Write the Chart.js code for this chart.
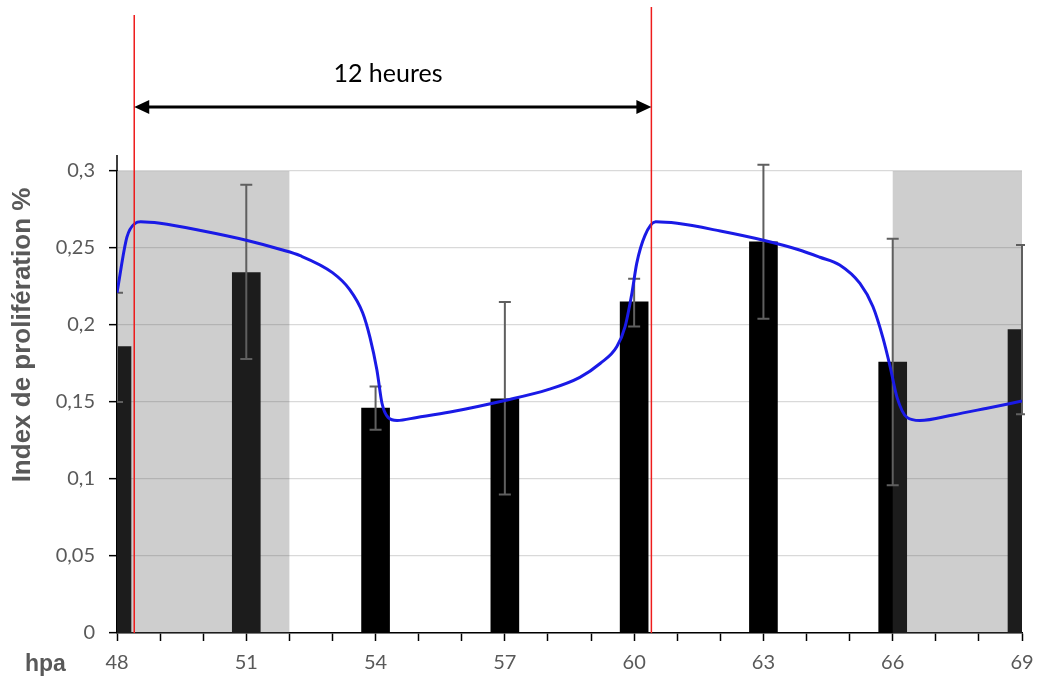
<!DOCTYPE html>
<html>
<head>
<meta charset="utf-8">
<script src="https://cdn.jsdelivr.net/npm/chart.js@4"></script>
<style>
  html, body { margin: 0; padding: 0; background: #fff; }
  #wrap { width: 1038px; height: 679px; }
</style>
</head>
<body>
<div id="wrap"><canvas id="c"></canvas></div>
<script>
// bars (hpa, index)
const barX = [48, 51, 54, 57, 60, 63, 66, 69];
const barY = [0.186, 0.234, 0.146, 0.152, 0.215, 0.254, 0.176, 0.197];
const errLow = [0.150, 0.178, 0.132, 0.090, 0.199, 0.204, 0.096, 0.142];
const errHigh = [0.221, 0.291, 0.160, 0.215, 0.230, 0.304, 0.256, 0.252];

// blue curve
const curveX = [48, 48.23, 48.42, 48.55, 49, 50, 51, 51.8, 52.25, 53.0, 53.4, 53.7, 53.87, 54.03, 54.15, 54.29, 54.5, 54.96, 55.73,
  57, 58, 58.74, 59.21, 59.6, 59.79, 59.95, 60.06, 60.25, 60.5, 61, 62, 63, 63.8, 64.31, 64.77, 65.24, 65.54, 65.77, 65.94, 66.1,
  66.33, 66.63, 67.4, 68.19, 69];
const curveY = [0.221, 0.257, 0.266, 0.267, 0.266, 0.261, 0.255, 0.249, 0.245, 0.234, 0.223, 0.208, 0.192, 0.171, 0.149, 0.140, 0.138, 0.140, 0.1435,
  0.151, 0.158, 0.166, 0.175, 0.186, 0.199, 0.221, 0.240, 0.258, 0.267, 0.266, 0.261, 0.255, 0.249, 0.244, 0.239, 0.227, 0.212, 0.192, 0.173, 0.153,
  0.140, 0.138, 0.1416, 0.146, 0.1506];

// grey periods and the 12 h markers
const shadeRanges = [[48, 52], [66, 69]];
const markerX = [48.4, 60.4];
const markerText = "12 heures";
const yTitle = "Index de prolifération %";
const xTitle = "hpa";

const FONT = "Lato, 'Open Sans', sans-serif";
const TITLE_FONT = "'Liberation Sans', Arial, sans-serif";
const GREY = "#595959";

const extras = {
  id: "extras",
  afterDatasetDraw(chart, args) {
    if (args.index !== 1) return;
    const { ctx, chartArea: a, scales: { x, y } } = chart;
    ctx.save();
    ctx.beginPath();
    ctx.rect(a.left, 0, a.right - a.left + 3, a.bottom);
    ctx.clip();
    // grey shading (drawn over the bars)
    ctx.fillStyle = "rgba(94,94,94,0.3)";
    shadeRanges.forEach(r => {
      const x0 = x.getPixelForValue(r[0]), x1 = x.getPixelForValue(r[1]);
      ctx.fillRect(x0, y.getPixelForValue(0.3), x1 - x0, y.getPixelForValue(0) - y.getPixelForValue(0.3));
    });
    // error bars
    ctx.strokeStyle = "#5f5f5f";
    ctx.lineWidth = 2;
    barX.forEach((v, i) => {
      const px = x.getPixelForValue(v);
      const lo = y.getPixelForValue(errLow[i]), hi = y.getPixelForValue(errHigh[i]);
      ctx.beginPath();
      ctx.moveTo(px, lo); ctx.lineTo(px, hi);
      ctx.moveTo(px - 6, lo); ctx.lineTo(px + 6, lo);
      ctx.moveTo(px - 6, hi); ctx.lineTo(px + 6, hi);
      ctx.stroke();
    });
    ctx.restore();
  },
  afterDraw(chart) {
    const { ctx, chartArea: a, scales: { x, y } } = chart;
    ctx.save();
    // y axis goes a bit above 0.3
    ctx.strokeStyle = "#000";
    ctx.lineWidth = 1.5;
    ctx.beginPath();
    ctx.moveTo(a.left, a.top); ctx.lineTo(a.left, a.top - 16);
    ctx.stroke();

    // red markers
    const m0 = x.getPixelForValue(markerX[0]), m1 = x.getPixelForValue(markerX[1]);
    ctx.strokeStyle = "#ee1c1c";
    ctx.lineWidth = 1.5;
    ctx.beginPath();
    ctx.moveTo(m0, 15); ctx.lineTo(m0, a.bottom);
    ctx.moveTo(m1, 7); ctx.lineTo(m1, a.bottom);
    ctx.stroke();

    // double arrow
    const ay = 107;
    ctx.strokeStyle = "#000";
    ctx.fillStyle = "#000";
    ctx.lineWidth = 3;
    ctx.beginPath();
    ctx.moveTo(m0 + 12, ay); ctx.lineTo(m1 - 12, ay);
    ctx.stroke();
    ctx.beginPath();
    ctx.moveTo(m0, ay); ctx.lineTo(m0 + 15, ay - 7); ctx.lineTo(m0 + 15, ay + 7); ctx.closePath();
    ctx.moveTo(m1, ay); ctx.lineTo(m1 - 15, ay - 7); ctx.lineTo(m1 - 15, ay + 7); ctx.closePath();
    ctx.fill();

    ctx.font = "25px " + FONT;
    ctx.textAlign = "center";
    ctx.textBaseline = "alphabetic";
    ctx.fillText(markerText, 388, 82);

    // axis titles
    ctx.fillStyle = GREY;
    ctx.font = "bold 23px " + TITLE_FONT;
    ctx.textAlign = "left";
    ctx.fillText(xTitle, 25, 671);
    ctx.font = "bold 26px " + TITLE_FONT;
    ctx.translate(30, 335);
    ctx.rotate(-Math.PI / 2);
    ctx.textAlign = "center";
    ctx.fillText(yTitle, 0, 0);
    ctx.restore();
  }
};

new Chart(document.getElementById("c"), {
  type: "bar",
  data: {
    datasets: [
      {
        type: "line",
        data: curveX.map((v, i) => ({ x: v, y: curveY[i] })),
        borderColor: "#1a1ae6",
        borderWidth: 3,
        pointRadius: 0,
        tension: 0.4,
        cubicInterpolationMode: "monotone",
        clip: 0
      },
      {
        type: "bar",
        data: barX.map((v, i) => ({ x: v, y: barY[i] })),
        backgroundColor: "#000",
        barThickness: 28,
        clip: 0
      }
    ]
  },
  options: {
    responsive: true,
    maintainAspectRatio: false,
    animation: false,
    layout: { padding: { top: 171, right: 16, left: 0, bottom: 0 } },
    plugins: { legend: { display: false }, tooltip: { enabled: false } },
    scales: {
      x: {
        type: "linear",
        min: 48, max: 69,
        offset: false,
        afterFit(s) { s.height = 46; s.paddingLeft = 0; s.paddingRight = 0; },
        grid: { display: true, drawOnChartArea: false, offset: false, tickLength: 8, tickColor: "#000", tickWidth: 1.5 },
        border: { color: "#000", width: 1.5 },
        ticks: {
          stepSize: 1, autoSkip: false, maxRotation: 0,
          color: GREY, font: { family: FONT, size: 20 }, padding: 10,
          callback: v => ((v - 48) % 3 === 0 ? String(v) : "")
        }
      },
      y: {
        min: 0, max: 0.3,
        afterFit(s) { s.width = 117; s.paddingTop = 0; s.paddingBottom = 0; },
        grid: { color: "#d9d9d9", lineWidth: 1.3, tickLength: 8, tickColor: "#000", tickWidth: 1.5 },
        border: { color: "#000", width: 1.5 },
        ticks: {
          stepSize: 0.05,
          color: GREY, font: { family: FONT, size: 20 }, padding: 14,
          callback: v => String(Math.round(v * 100) / 100).replace(".", ",")
        }
      }
    }
  },
  plugins: [extras]
});
</script>
</body>
</html>
